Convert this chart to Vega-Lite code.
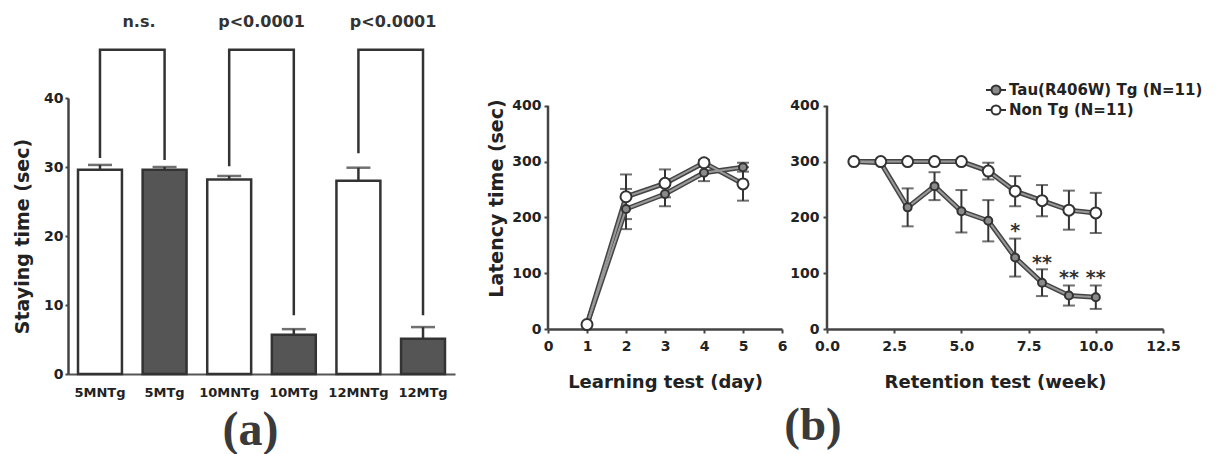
{
  "$schema": "https://vega.github.io/schema/vega-lite/v6.json",
  "background": "white",
  "padding": {"left": 13, "top": 14, "right": 0, "bottom": 0},
  "autosize": {"type": "pad"},
  "datasets": {
    "bars": [
      {"cat": "5MNTg", "geno": "NTg", "mean": 29.6, "hi": 30.3},
      {"cat": "5MTg", "geno": "Tg", "mean": 29.6, "hi": 30.0},
      {"cat": "10MNTg", "geno": "NTg", "mean": 28.2, "hi": 28.7},
      {"cat": "10MTg", "geno": "Tg", "mean": 5.7, "hi": 6.5},
      {"cat": "12MNTg", "geno": "NTg", "mean": 28.0, "hi": 29.9},
      {"cat": "12MTg", "geno": "Tg", "mean": 5.1, "hi": 6.8}
    ],
    "brackets": [
      {"pair": "5M", "cat": "5MNTg", "v": 31.3, "o": 1},
      {"pair": "5M", "cat": "5MNTg", "v": 47, "o": 2},
      {"pair": "5M", "cat": "5MTg", "v": 47, "o": 3},
      {"pair": "5M", "cat": "5MTg", "v": 31, "o": 4},
      {"pair": "10M", "cat": "10MNTg", "v": 30.1, "o": 1},
      {"pair": "10M", "cat": "10MNTg", "v": 47, "o": 2},
      {"pair": "10M", "cat": "10MTg", "v": 47, "o": 3},
      {"pair": "10M", "cat": "10MTg", "v": 8.5, "o": 4},
      {"pair": "12M", "cat": "12MNTg", "v": 32, "o": 1},
      {"pair": "12M", "cat": "12MNTg", "v": 47, "o": 2},
      {"pair": "12M", "cat": "12MTg", "v": 47, "o": 3},
      {"pair": "12M", "cat": "12MTg", "v": 8.5, "o": 4}
    ],
    "sig": [
      {"pos": 1.1, "v": 51, "label": "n.s."},
      {"pos": 3.0, "v": 51, "label": "p<0.0001"},
      {"pos": 5.04, "v": 51, "label": "p<0.0001"}
    ],
    "learn": [
      {"day": 1, "grp": "Tau(R406W) Tg (N=11)", "mean": 8, "lo": 8, "hi": 8},
      {"day": 2, "grp": "Tau(R406W) Tg (N=11)", "mean": 215, "lo": 179, "hi": 251},
      {"day": 3, "grp": "Tau(R406W) Tg (N=11)", "mean": 242, "lo": 220, "hi": 264},
      {"day": 4, "grp": "Tau(R406W) Tg (N=11)", "mean": 280, "lo": 265, "hi": 295},
      {"day": 5, "grp": "Tau(R406W) Tg (N=11)", "mean": 290, "lo": 282, "hi": 298},
      {"day": 1, "grp": "Non Tg (N=11)", "mean": 8, "lo": 8, "hi": 8},
      {"day": 2, "grp": "Non Tg (N=11)", "mean": 237, "lo": 197, "hi": 277},
      {"day": 3, "grp": "Non Tg (N=11)", "mean": 261, "lo": 236, "hi": 286},
      {"day": 4, "grp": "Non Tg (N=11)", "mean": 298, "lo": 293, "hi": 303},
      {"day": 5, "grp": "Non Tg (N=11)", "mean": 260, "lo": 230, "hi": 290}
    ],
    "retain": [
      {"week": 1, "grp": "Tau(R406W) Tg (N=11)", "mean": 300, "lo": 300, "hi": 300},
      {"week": 2, "grp": "Tau(R406W) Tg (N=11)", "mean": 298, "lo": 298, "hi": 298},
      {"week": 3, "grp": "Tau(R406W) Tg (N=11)", "mean": 218, "lo": 184, "hi": 252},
      {"week": 4, "grp": "Tau(R406W) Tg (N=11)", "mean": 256, "lo": 231, "hi": 281},
      {"week": 5, "grp": "Tau(R406W) Tg (N=11)", "mean": 211, "lo": 173, "hi": 249},
      {"week": 6, "grp": "Tau(R406W) Tg (N=11)", "mean": 194, "lo": 157, "hi": 231},
      {"week": 7, "grp": "Tau(R406W) Tg (N=11)", "mean": 128, "lo": 94, "hi": 162},
      {"week": 8, "grp": "Tau(R406W) Tg (N=11)", "mean": 83, "lo": 59, "hi": 107},
      {"week": 9, "grp": "Tau(R406W) Tg (N=11)", "mean": 60, "lo": 42, "hi": 78},
      {"week": 10, "grp": "Tau(R406W) Tg (N=11)", "mean": 57, "lo": 36, "hi": 78},
      {"week": 1, "grp": "Non Tg (N=11)", "mean": 300, "lo": 300, "hi": 300},
      {"week": 2, "grp": "Non Tg (N=11)", "mean": 300, "lo": 300, "hi": 300},
      {"week": 3, "grp": "Non Tg (N=11)", "mean": 300, "lo": 300, "hi": 300},
      {"week": 4, "grp": "Non Tg (N=11)", "mean": 300, "lo": 300, "hi": 300},
      {"week": 5, "grp": "Non Tg (N=11)", "mean": 300, "lo": 300, "hi": 300},
      {"week": 6, "grp": "Non Tg (N=11)", "mean": 283, "lo": 268, "hi": 298},
      {"week": 7, "grp": "Non Tg (N=11)", "mean": 247, "lo": 220, "hi": 274},
      {"week": 8, "grp": "Non Tg (N=11)", "mean": 230, "lo": 202, "hi": 258},
      {"week": 9, "grp": "Non Tg (N=11)", "mean": 213, "lo": 178, "hi": 248},
      {"week": 10, "grp": "Non Tg (N=11)", "mean": 208, "lo": 172, "hi": 244}
    ],
    "stars": [
      {"week": 7, "v": 176, "t": "*"},
      {"week": 8, "v": 118, "t": "**"},
      {"week": 9, "v": 92, "t": "**"},
      {"week": 10, "v": 91, "t": "**"}
    ],
    "one": [{}]
  },
  "spacing": 93,
  "bounds": "flush",
  "hconcat": [
    {
      "width": 387,
      "height": 276,
      "title": {"text": "(a)", "orient": "bottom", "anchor": "middle", "frame": "group", "font": "Liberation Serif", "fontSize": 48, "fontWeight": "bold", "color": "#3a3a3a", "dx": -11, "offset": 8},
      "resolve": {"scale": {"x": "independent"}},
      "layer": [
        {
          "layer": [
            {
              "data": {"name": "bars"},
              "mark": {"type": "bar", "stroke": "#333", "strokeWidth": 2.5},
              "encoding": {
                "x": {"field": "cat", "type": "nominal", "sort": null,
                  "scale": {"domain": ["5MNTg", "5MTg", "10MNTg", "10MTg", "12MNTg", "12MTg"], "paddingInner": 0.32, "paddingOuter": 0.155},
                  "axis": {"title": null, "labelAngle": 0, "ticks": false, "labelFontSize": 13, "labelPadding": 12, "domainColor": "#555", "domainWidth": 2}},
                "y": {"field": "mean", "type": "quantitative", "scale": {"domain": [0, 40], "nice": false},
                  "axis": {"values": [0, 10, 20, 30, 40], "title": "Staying time (sec)", "titleFontSize": 19, "labelFontSize": 14, "tickSize": 3, "labelPadding": 2, "titlePadding": 11}},
                "fill": {"condition": {"test": "datum.geno === 'Tg'", "value": "#555"}, "value": "white"}
              }
            },
            {
              "data": {"name": "bars"},
              "mark": {"type": "rule", "stroke": "#333", "strokeWidth": 2.5},
              "encoding": {
                "x": {"field": "cat", "type": "nominal", "sort": null},
                "y": {"field": "mean", "type": "quantitative", "title": "Staying time (sec)"},
                "y2": {"field": "hi"}
              }
            },
            {
              "data": {"name": "bars"},
              "mark": {"type": "tick", "color": "#333", "thickness": 2.5, "size": 24},
              "encoding": {
                "x": {"field": "cat", "type": "nominal", "sort": null},
                "y": {"field": "hi", "type": "quantitative", "title": "Staying time (sec)"}
              }
            },
            {
              "data": {"name": "brackets"},
              "mark": {"type": "line", "stroke": "#333", "strokeWidth": 2.5},
              "encoding": {
                "x": {"field": "cat", "type": "nominal", "sort": null},
                "y": {"field": "v", "type": "quantitative", "title": "Staying time (sec)"},
                "detail": {"field": "pair"},
                "order": {"field": "o"}
              }
            }
          ]
        },
        {
          "data": {"name": "sig"},
          "mark": {"type": "text", "font": "DejaVu Sans", "fontSize": 16, "fontWeight": "bold", "color": "#333"},
          "encoding": {
            "x": {"field": "pos", "type": "quantitative", "scale": {"domain": [0, 6], "nice": false, "zero": false}, "axis": null},
            "y": {"field": "v", "type": "quantitative", "title": "Staying time (sec)"},
            "text": {"field": "label"}
          }
        }
      ]
    },
    {
      "spacing": 45,
      "bounds": "flush",
      "hconcat": [
        {
          "width": 234,
          "height": 231,
          "title": {"text": "(b)", "orient": "bottom", "anchor": "middle", "frame": "group", "font": "Liberation Serif", "fontSize": 47, "fontWeight": "bold", "color": "#3a3a3a", "dx": 148, "offset": 12},
          "layer": [
            {
              "data": {"name": "one"},
              "mark": {"type": "rule", "stroke": "#444", "strokeWidth": 2.5},
              "encoding": {
                "x": {"datum": 0, "type": "quantitative",
                  "scale": {"domain": [0, 6], "nice": false},
                  "axis": {"values": [0, 1, 2, 3, 4, 5, 6], "tickCount": 7, "labelOverlap": false, "title": "Learning test (day)", "titleFontSize": 18, "labelFontSize": 14, "tickSize": 4, "labelPadding": 6, "titlePadding": 20}},
                "y": {"datum": 0, "type": "quantitative",
                  "scale": {"domain": [0, 414], "nice": false},
                  "axis": {"values": [0, 100, 200, 300, 400], "domain": false, "title": "Latency time (sec)", "titleFontSize": 19, "titleY": 100, "labelFontSize": 14, "tickSize": 4, "labelPadding": 3, "titlePadding": 5}},
                "y2": {"datum": 400}
              }
            },
            {
              "data": {"name": "learn"},
              "transform": [{"filter": "datum.hi > datum.lo"}],
              "mark": {"type": "errorbar", "color": "#333", "ticks": {"size": 12, "thickness": 2}, "rule": {"strokeWidth": 2}},
              "encoding": {
                "x": {"field": "day", "type": "quantitative", "title": "Learning test (day)"},
                "y": {"field": "lo", "type": "quantitative", "title": "Latency time (sec)"},
                "y2": {"field": "hi"}
              }
            },
            {
              "data": {"name": "learn"},
              "mark": {"type": "line", "stroke": "#444", "strokeWidth": 5},
              "encoding": {
                "x": {"field": "day", "type": "quantitative", "title": "Learning test (day)"},
                "y": {"field": "mean", "type": "quantitative", "title": "Latency time (sec)"},
                "detail": {"field": "grp"}
              }
            },
            {
              "data": {"name": "learn"},
              "mark": {"type": "line", "stroke": "#999", "strokeWidth": 2},
              "encoding": {
                "x": {"field": "day", "type": "quantitative", "title": "Learning test (day)"},
                "y": {"field": "mean", "type": "quantitative", "title": "Latency time (sec)"},
                "detail": {"field": "grp"}
              }
            },
            {
              "data": {"name": "learn"},
              "mark": {"type": "point", "shape": "circle", "filled": true, "stroke": "#333", "strokeWidth": 2, "opacity": 1},
              "encoding": {
                "x": {"field": "day", "type": "quantitative", "title": "Learning test (day)"},
                "y": {"field": "mean", "type": "quantitative", "title": "Latency time (sec)"},
                "fill": {"condition": {"test": "datum.grp === 'Non Tg (N=11)'", "value": "white"}, "value": "#8a8a8a"},
                "size": {"condition": {"test": "datum.grp === 'Non Tg (N=11)'", "value": 121}, "value": 64}
              }
            }
          ]
        },
        {
          "width": 336,
          "height": 231,
          "layer": [
            {
              "data": {"name": "one"},
              "mark": {"type": "rule", "stroke": "#444", "strokeWidth": 2.5},
              "encoding": {
                "x": {"datum": 0, "type": "quantitative",
                  "scale": {"domain": [0, 12.5], "nice": false},
                  "axis": {"values": [0, 2.5, 5, 7.5, 10, 12.5], "format": ".1f", "labelOverlap": false, "title": "Retention test (week)", "titleFontSize": 18, "labelFontSize": 14, "tickSize": 4, "labelPadding": 6, "titlePadding": 20}},
                "y": {"datum": 0, "type": "quantitative",
                  "scale": {"domain": [0, 414], "nice": false},
                  "axis": {"values": [0, 100, 200, 300, 400], "domain": false, "title": null, "labelFontSize": 14, "tickSize": 4, "labelPadding": 4}},
                "y2": {"datum": 400}
              }
            },
            {
              "data": {"name": "retain"},
              "transform": [{"filter": "datum.hi > datum.lo"}],
              "mark": {"type": "errorbar", "color": "#333", "ticks": {"size": 12, "thickness": 2}, "rule": {"strokeWidth": 2}},
              "encoding": {
                "x": {"field": "week", "type": "quantitative", "title": "Retention test (week)"},
                "y": {"field": "lo", "type": "quantitative", "title": null},
                "y2": {"field": "hi"}
              }
            },
            {
              "data": {"name": "retain"},
              "mark": {"type": "line", "stroke": "#444", "strokeWidth": 5},
              "encoding": {
                "x": {"field": "week", "type": "quantitative", "title": "Retention test (week)"},
                "y": {"field": "mean", "type": "quantitative", "title": null},
                "detail": {"field": "grp"}
              }
            },
            {
              "data": {"name": "retain"},
              "mark": {"type": "line", "stroke": "#999", "strokeWidth": 2},
              "encoding": {
                "x": {"field": "week", "type": "quantitative", "title": "Retention test (week)"},
                "y": {"field": "mean", "type": "quantitative", "title": null},
                "detail": {"field": "grp"}
              }
            },
            {
              "data": {"name": "retain"},
              "mark": {"type": "point", "shape": "circle", "filled": true, "stroke": "#333", "strokeWidth": 2, "opacity": 1},
              "encoding": {
                "x": {"field": "week", "type": "quantitative", "title": "Retention test (week)"},
                "y": {"field": "mean", "type": "quantitative", "title": null},
                "fill": {"field": "grp", "type": "nominal",
                  "scale": {"domain": ["Tau(R406W) Tg (N=11)", "Non Tg (N=11)"], "range": ["#8a8a8a", "#ffffff"]},
                  "legend": {"title": null, "orient": "none", "legendX": 917, "legendY": -19,
                    "symbolType": "M-1,0L-0.45,0M0.45,0L1,0M0.45,0A0.45,0.45,0,1,1,-0.45,0A0.45,0.45,0,1,1,0.45,0Z",
                    "symbolSize": 400, "symbolStrokeColor": "#333", "symbolStrokeWidth": 2, "symbolOpacity": 1,
                    "labelFont": "DejaVu Sans", "labelFontWeight": "bold", "labelFontSize": 15, "labelColor": "#222",
                    "labelLimit": 300, "rowPadding": 0, "labelOffset": 2}},
                "size": {"condition": {"test": "datum.grp === 'Non Tg (N=11)'", "value": 121}, "value": 64}
              }
            },
            {
              "data": {"name": "stars"},
              "mark": {"type": "text", "font": "DejaVu Sans", "fontSize": 19, "fontWeight": "bold", "color": "#333", "baseline": "middle"},
              "encoding": {
                "x": {"field": "week", "type": "quantitative", "title": "Retention test (week)"},
                "y": {"field": "v", "type": "quantitative", "title": null},
                "text": {"field": "t"}
              }
            }
          ]
        }
      ]
    }
  ],
  "config": {
    "view": {"stroke": null},
    "font": "DejaVu Sans",
    "axis": {
      "domainColor": "#444", "domainWidth": 2.5, "tickColor": "#444", "tickWidth": 2,
      "labelColor": "#222", "titleColor": "#222",
      "labelFont": "DejaVu Sans", "titleFont": "DejaVu Sans",
      "labelFontWeight": "bold", "titleFontWeight": "bold", "grid": false,
      "labelOverlap": false, "labelFlush": false
    }
  }
}
